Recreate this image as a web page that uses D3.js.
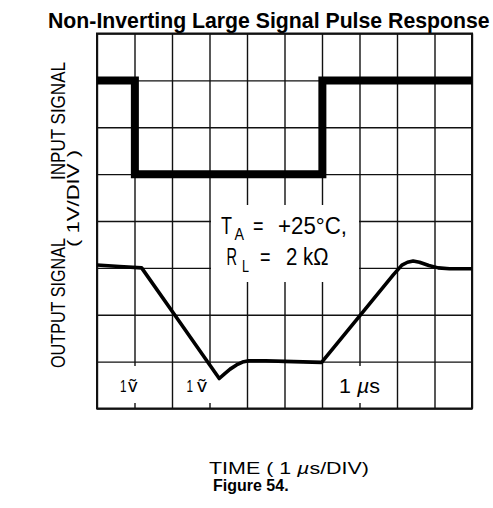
<!DOCTYPE html>
<html>
<head>
<meta charset="utf-8">
<script src="https://cdn.jsdelivr.net/npm/d3@7"></script>
<style>
  html, body { margin: 0; padding: 0; background: #fff; }
  svg { display: block; }
</style>
</head>
<body>
<svg id="chart" width="493" height="508"></svg>
<script>
// Scope screen: 10 time divisions (1 µs/DIV) by 8 vertical divisions (1 V/DIV)
const timeDivs = d3.range(0, 11);
const voltDivs = d3.range(0, 9);

// Input pulse, in divisions (time, level)
const inputTime  = [0, 1.01, 1.01, 6.01, 6.01, 10];
const inputLevel = [7, 7, 5, 5, 7, 7];

// Output response, in divisions (time, level)
const outputTime  = [0, 0.6, 1.19, 2.2, 3.26, 3.4, 3.55, 3.72, 3.88, 4.05, 4.5, 5.0, 5.99,
                     7.0, 7.9, 8.13, 8.28, 8.43, 8.6, 8.85, 9.1, 9.4, 10];
const outputLevel = [3.06, 3.03, 3.0, 1.85, 0.64, 0.74, 0.84, 0.93, 0.99, 1.02, 1.02, 1.005, 0.985,
                     1.97, 2.85, 3.06, 3.12, 3.145, 3.12, 3.05, 3.0, 2.98, 2.98];

const svg = d3.select("#chart");
const x = d3.scaleLinear().domain([0, 10]).range([97, 472]);
const y = d3.scaleLinear().domain([0, 8]).range([408.5, 33.5]);
const plotH = y(0) - y(8);
const plotW = x(10) - x(0);

const ink = "#111";
const sans = "'Liberation Sans', Arial, 'DejaVu Sans', sans-serif";

// Title
svg.append("text")
  .attr("x", 48).attr("y", 27.5)
  .attr("font-family", sans).attr("font-weight", "bold").attr("font-size", 21.25)
  .attr("fill", "#000")
  .text("Non-Inverting Large Signal Pulse Response");

// Graticule drawn through axes
const vGrid = svg.append("g")
  .attr("transform", `translate(0,${y(0)})`)
  .call(d3.axisBottom(x).tickValues(timeDivs).tickSize(-plotH).tickFormat(""));
const hGrid = svg.append("g")
  .attr("transform", `translate(${x(0)},0)`)
  .call(d3.axisLeft(y).tickValues(voltDivs).tickSize(-plotW).tickFormat(""));
[vGrid, hGrid].forEach(g => {
  g.select(".domain").remove();
  g.selectAll("line").attr("stroke", ink).attr("stroke-width", 1.4);
});

// Label backgrounds cut into the graticule
const boxes = [
  [211, 205, 148, 77],
  [118, 366, 22, 37],
  [185, 366, 27, 37],
  [337, 366, 46, 37]
];
svg.append("g").selectAll("rect").data(boxes).join("rect")
  .attr("x", d => d[0]).attr("y", d => d[1])
  .attr("width", d => d[2]).attr("height", d => d[3])
  .attr("fill", "#fff");

// Screen frame
svg.append("rect")
  .attr("x", x(0)).attr("y", y(8)).attr("width", plotW).attr("height", plotH)
  .attr("fill", "none").attr("stroke", ink).attr("stroke-width", 2);

// Traces
const line = d3.line().x(d => x(d[0])).y(d => y(d[1]));
svg.append("path")
  .datum(d3.zip(outputTime, outputLevel))
  .attr("d", line)
  .attr("fill", "none").attr("stroke", "#000")
  .attr("stroke-width", 3.6).attr("stroke-linejoin", "round");
svg.append("path")
  .datum(d3.zip(inputTime, inputLevel))
  .attr("d", line)
  .attr("fill", "none").attr("stroke", "#000")
  .attr("stroke-width", 8).attr("stroke-linejoin", "miter");

// Narrow label helper
function label(str, px, py, size, len, opts = {}) {
  const t = svg.append("text")
    .attr("x", px).attr("y", py)
    .attr("font-family", sans).attr("font-size", size)
    .attr("fill", "#000");
  if (opts.rotate) t.attr("transform", `rotate(-90,${px},${py})`);
  if (len) t.attr("textLength", len).attr("lengthAdjust", opts.adjust || "spacingAndGlyphs");
  if (str) t.text(str);
  return t;
}

// Vertical axis titles
label("INPUT SIGNAL", 64.5, 180, 19.5, 118, { rotate: true });
label("OUTPUT SIGNAL", 64.5, 368, 19.5, 130, { rotate: true });
label("( 1V/DIV )", 78.5, 247, 16, 97, { rotate: true });

// Conditions: T_A = +25°C, R_L = 2 kΩ
label("T", 221, 233.5, 23, 11);
label("A", 234.5, 239.5, 16, 9.5);
label("=", 253, 233.5, 23, 10.5);
label("+25°C,", 278, 233.5, 23, 69);
label("R", 226.5, 265, 23, 10.5);
label("L", 242, 271.5, 16, 7);
label("=", 260, 265, 23, 10.5);
label("2 kΩ", 286, 265, 23, 42.5);

// Division markers along the bottom row
label("1", 120, 392, 17, 6.5);
label("ṽ", 128, 392, 18, 9.5);
label("1", 186.5, 392, 17, 6.5);
label("ṽ", 197, 392, 18, 10);
const us = label(null, 339, 393, 20, 41);
us.append("tspan").text("1 ");
us.append("tspan").attr("font-style", "italic").text("µ");
us.append("tspan").text("s");

// Time axis title
const tt = label(null, 209, 473.5, 16.5, 160);
tt.append("tspan").text("TIME ( 1 ");
tt.append("tspan").attr("font-style", "italic").text("µ");
tt.append("tspan").text("s/DIV)");

// Figure caption
svg.append("text")
  .attr("x", 213).attr("y", 491)
  .attr("font-family", sans).attr("font-weight", "bold").attr("font-size", 16)
  .attr("fill", "#000")
  .text("Figure 54.");
</script>
</body>
</html>
